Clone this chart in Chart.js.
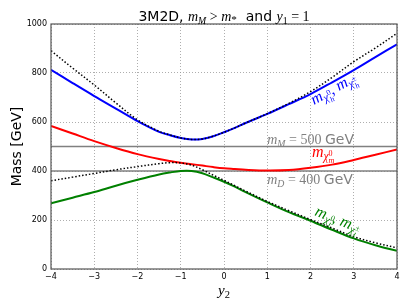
<!DOCTYPE html>
<html><head><meta charset="utf-8">
<script src="https://cdn.jsdelivr.net/npm/chart.js@4/dist/chart.umd.min.js"></script>
<style>html,body{margin:0;padding:0;background:#fff}#wrap{width:409px;height:307px;position:relative}</style>
</head><body>
<div id="wrap"><canvas id="c"></canvas></div>
<script>
// ---- data ----
const y2Values = [-4,-3.5,-3,-2.5,-2,-1.5,-1.25,-1,-0.75,-0.5,-0.25,0,0.25,0.5,1,1.5,2,2.5,3,3.5,4];
const massHeavy   = [813,759,706,655,604,560,546,535,529,531,542,558,576,596,633,673,714,762,812,865,917];
const approxHeavy = [891,820,751,678,609,562,547,535,529,531,542,558,576,596,634,676,724,782,846,902,962];
const massMiddle  = [584,553,522,494,469,449,441,434,428,422,416,411,408,405,402,404,413,426,445,466,488];
const massLight   = [268,291,314,340,364,386,394,400,400,391,374,356,336,314,272,232,197,160,125,97,74];
const approxLight = [360,375,390,405,418,430,434,433,424,405,383,362,340,318,276,238,202,167,132,107,86];
const mM = 500, mD = 400;
const xTicks = [-4,-3,-2,-1,0,1,2,3,4];
const yTicks = [0,200,400,600,800,1000];

const pts = arr => arr.map((v,i)=>({x:y2Values[i], y:v}));
const hline = v => [{x:-4,y:v},{x:4,y:v}];

function fontOf(seg, size){
  const s = size*(seg.s||1);
  if (seg.f==='sans') return `${s}px "DejaVu Sans"`;
  if (seg.f==='mi') return `italic ${s}px "Liberation Serif"`;
  return `${s}px "Liberation Serif"`;
}
function rich(ctx, segs, x, y, size, color, angle, align){
  ctx.save();
  ctx.translate(x,y);
  ctx.rotate((angle||0)*Math.PI/180);
  ctx.fillStyle = color;
  ctx.textBaseline = 'alphabetic';
  ctx.textAlign = 'left';
  let total = 0;
  const ws = segs.map(sg=>{ctx.font=fontOf(sg,size); const w=ctx.measureText(sg.t).width; if(sg.adv!==false) total+=w; return w;});
  let cx = align==='center' ? -total/2 : 0;
  segs.forEach((sg,i)=>{ctx.font=fontOf(sg,size); ctx.fillText(sg.t, cx, (sg.dy||0)*size); if(sg.adv!==false) cx+=ws[i];});
  ctx.restore();
}

const textPlugin = {
  id:'texts',
  afterDraw(chart){
    const ctx = chart.ctx, a = chart.chartArea;
    const xs = chart.scales.x, ys = chart.scales.y;
    ctx.save();
    ctx.strokeStyle = '#555'; ctx.lineWidth = 1.2;
    ctx.strokeRect(a.left, a.top, a.right-a.left, a.bottom-a.top);
    ctx.restore();
    rich(ctx, [
      {t:'3M2D, ',f:'sans'},{t:'m',f:'mi'},{t:'M',f:'mi',s:.7,dy:.22},{t:' > ',f:'mu'},
      {t:'m',f:'mi'},{t:'*',f:'mu',s:.8,dy:.15},{t:'  and ',f:'sans'},{t:'y',f:'mi'},
      {t:'1',f:'mu',s:.7,dy:.22},{t:' = 1',f:'mu'}
    ], (a.left+a.right)/2, 20.5, 14, '#000', 0, 'center');
    ctx.save();
    ctx.translate(21, (a.top+a.bottom)/2);
    ctx.rotate(-Math.PI/2);
    ctx.font = '14px "DejaVu Sans"'; ctx.fillStyle='#000'; ctx.textAlign='center'; ctx.textBaseline='alphabetic';
    ctx.fillText('Mass [GeV]', 0, 0);
    ctx.restore();
    rich(ctx, [{t:'y',f:'mi'},{t:'2',f:'mu',s:.7,dy:.22}], (a.left+a.right)/2, 295, 15, '#000', 0, 'center');
    const gray = '#808080';
    rich(ctx, [{t:'m',f:'mi'},{t:'M',f:'mi',s:.7,dy:.22},{t:' = 500 ',f:'mu'},{t:'GeV',f:'sans'}],
      xs.getPixelForValue(1), ys.getPixelForValue(mM)-3, 14, gray, 0);
    rich(ctx, [{t:'m',f:'mi'},{t:'D',f:'mi',s:.7,dy:.22},{t:' = 400 ',f:'mu'},{t:'GeV',f:'sans'}],
      xs.getPixelForValue(1), ys.getPixelForValue(mD)+13, 14, gray, 0);
    rich(ctx, [{t:'m',f:'mi'},{t:'χ',f:'mi',s:.72,dy:.18},{t:'0',f:'mu',s:.5,dy:-.08,adv:false},{t:'h',f:'mi',s:.5,dy:.4},
      {t:', ',f:'mu'},{t:'m',f:'mi'},{t:'χ',f:'mi',s:.72,dy:.18},{t:'±',f:'mu',s:.5,dy:-.08,adv:false},{t:'h',f:'mi',s:.5,dy:.4}],
      314, 105, 16, '#0000ff', -29);
    rich(ctx, [{t:'m',f:'mi'},{t:'χ',f:'mi',s:.72,dy:.18},{t:'0',f:'mu',s:.5,dy:-.08,adv:false},{t:'m',f:'mi',s:.5,dy:.4}],
      312, 157, 16, '#ff0000', 0);
    rich(ctx, [{t:'m',f:'mi'},{t:'χ',f:'mi',s:.72,dy:.18},{t:'0',f:'mu',s:.5,dy:-.08,adv:false},{t:'l',f:'mi',s:.5,dy:.4},
      {t:', ',f:'mu'},{t:'m',f:'mi'},{t:'χ',f:'mi',s:.72,dy:.18},{t:'±',f:'mu',s:.5,dy:-.08,adv:false},{t:'l',f:'mi',s:.5,dy:.4}],
      314, 215, 16, '#008000', 22);
  }
};

const common = {pointRadius:0, fill:false, tension:0.35};
new Chart(document.getElementById('c'), {
  type:'line',
  data:{datasets:[
    {...common, data:hline(mM), borderColor:'#808080', borderWidth:1.5, order:3},
    {...common, data:hline(mD), borderColor:'#808080', borderWidth:1.5, order:3},
    {...common, data:pts(massHeavy), borderColor:'#0000ff', borderWidth:2, order:2},
    {...common, data:pts(massMiddle), borderColor:'#ff0000', borderWidth:2, order:2},
    {...common, data:pts(massLight), borderColor:'#008000', borderWidth:2, order:2},
    {...common, data:pts(approxHeavy), borderColor:'#000', borderWidth:1.5, borderDash:[1.5,2], order:1},
    {...common, data:pts(approxLight), borderColor:'#000', borderWidth:1.5, borderDash:[1.5,2], order:1}
  ]},
  options:{
    responsive:true, maintainAspectRatio:false, animation:false,
    layout:{padding:{top:24,right:12,left:0,bottom:0}},
    plugins:{legend:{display:false}, title:{display:false}, tooltip:{enabled:false}},
    scales:{
      x:{type:'linear', min:-4, max:4,
        afterFit(s){s.height=38;},
        afterBuildTicks(s){s.ticks = xTicks.map(v=>({value:v}));},
        ticks:{padding:3, color:'#000', font:{family:'DejaVu Sans', size:8},
          callback:v=>String(v).replace('-','\u2212')},
        grid:{color:'#999', lineWidth:0.8, drawTicks:false},
        border:{display:false, dash:[1,2]}},
      y:{min:0, max:1000,
        afterFit(s){s.width=51;},
        afterBuildTicks(s){s.ticks = yTicks.map(v=>({value:v}));},
        ticks:{padding:4, color:'#000', font:{family:'DejaVu Sans', size:8}, callback:v=>String(v)},
        grid:{color:'#999', lineWidth:0.8, drawTicks:false},
        border:{display:false, dash:[1,2]}}
    }
  },
  plugins:[textPlugin]
});
</script>
</body></html>
